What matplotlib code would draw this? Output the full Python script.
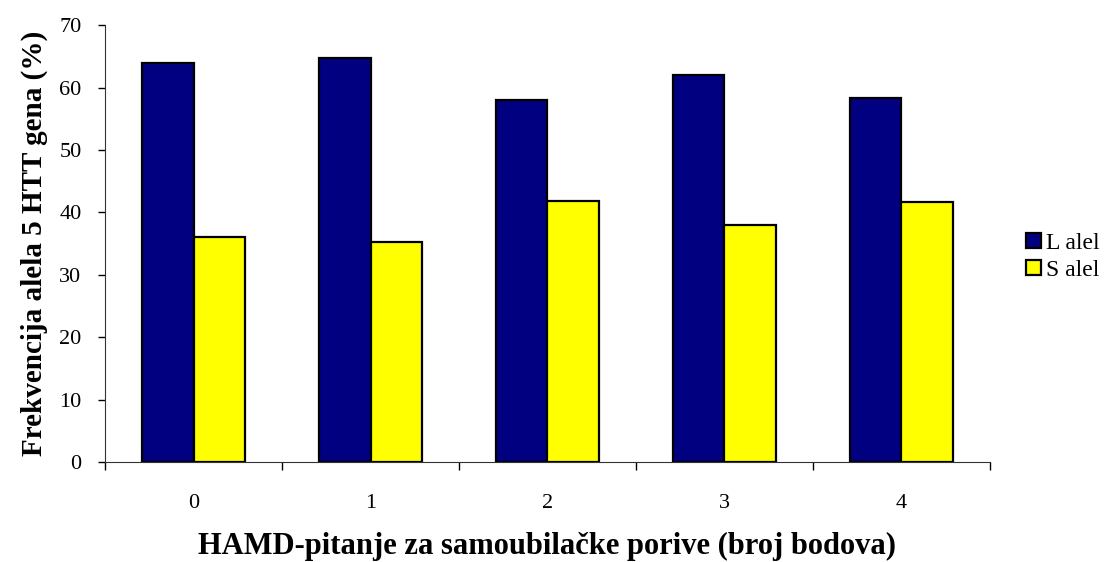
import numpy as np
import matplotlib.pyplot as plt

categories = ['0', '1', '2', '3', '4']
l_alel = [64.0, 64.8, 58.1, 62.0, 58.3]
s_alel = [36.0, 35.2, 41.9, 38.0, 41.7]

plt.rcParams['font.family'] = ['Liberation Serif', 'DejaVu Serif']

fig = plt.figure(figsize=(11.07, 5.62), dpi=100)
ax = fig.add_axes([0.095, 0.178, 0.799, 0.777])

x = np.arange(len(categories))
w = 0.29
ax.bar(x - w / 2, l_alel, w, color='#000080', edgecolor='black', linewidth=1.6, label='L alel')
ax.bar(x + w / 2, s_alel, w, color='#FFFF00', edgecolor='black', linewidth=1.6, label='S alel')

ax.set_xlim(-0.5, len(categories) - 0.5)
ax.set_ylim(0, 70)
ax.set_yticks(np.arange(0, 71, 10))
ax.set_xticks(np.arange(-0.5, len(categories)))
ax.set_xticklabels([])
ax.set_xticks(x, minor=True)
ax.set_xticklabels(categories, minor=True)
ax.tick_params(axis='x', which='minor', length=0, pad=23, labelsize=16)
ax.tick_params(axis='x', which='major', length=6, width=1, direction='out')
ax.tick_params(axis='y', length=5, width=1, direction='out', labelsize=16, pad=12)

for s in ['top', 'right']:
    ax.spines[s].set_visible(False)
ax.spines['left'].set_color('#333333')
ax.spines['bottom'].set_color('#333333')

ax.set_xlabel('HAMD-pitanje za samoubilačke porive (broj bodova)', fontsize=22,
              fontweight='bold', labelpad=14)
ax.set_ylabel('Frekvencija alela 5 HTT gena (%)', fontsize=21, fontweight='bold', labelpad=8)

ax.legend(loc='center left', bbox_to_anchor=(1.041, 0.47), frameon=False, fontsize=17,
          borderaxespad=0, borderpad=0, handlelength=0.65, handleheight=0.65,
          handletextpad=0.2, labelspacing=0.25)

fig.savefig('out.png', dpi=100)
